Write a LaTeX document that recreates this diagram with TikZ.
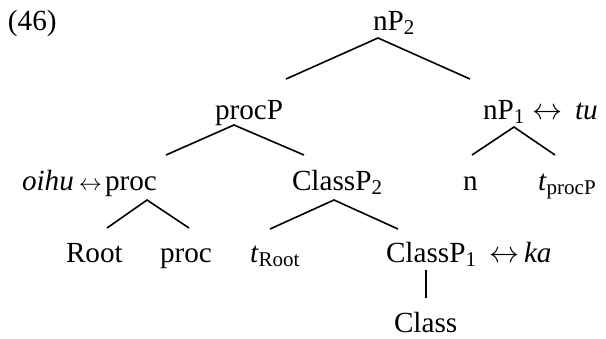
\documentclass[tikz,border=0pt]{standalone}
\usepackage{fontspec}
\setmainfont{Liberation Serif}
\newcommand{\lsub}[1]{\raisebox{-2.2pt}{\fontsize{10.5}{11}\selectfont #1}}
\newcommand{\bigarr}{\resizebox{15pt}{!}{$\leftrightarrow$}}
\newcommand{\smallarr}{\resizebox{11.5pt}{!}{$\leftrightarrow$}}

\begin{document}
\begin{tikzpicture}[
  x=0.5pt, y=-0.5pt,
  font=\fontsize{14.6}{17}\selectfont,
  lbl/.style={anchor=base west, inner sep=0pt, outer sep=0pt},
  branch/.style={line width=0.8pt}]
\useasboundingbox (0,0) rectangle (606,338);
% labels
\node[lbl] (ex)      at (8,30)    {(46)};
\node[lbl] (nPtwo)   at (373,30)  {nP\lsub{2}};
\node[lbl] (procP)   at (215,119) {procP};
\node[lbl] (nPone)   at (483,119) {nP\lsub{1}};
\node[lbl] (arrtu)   at (532,119) {\bigarr};
\node[lbl] (tu)      at (575,119) {\textit{tu}};
\node[lbl] (oihu)    at (22,190)  {\textit{oihu}};
\node[lbl] (arroihu) at (79,190)  {\smallarr};
\node[lbl] (proc)    at (105,190) {proc};
\node[lbl] (clstwo)  at (292,190) {ClassP\lsub{2}};
\node[lbl] (n)       at (463,190) {n};
\node[lbl] (tproc)   at (538,190) {\textit{t}\lsub{procP}};
\node[lbl] (root)    at (66,262)  {Root};
\node[lbl] (prochd)  at (160,262) {proc};
\node[lbl] (troot)   at (250,262) {\textit{t}\lsub{Root}};
\node[lbl] (clsone)  at (386,262) {ClassP\lsub{1}};
\node[lbl] (arrka)   at (489,262) {\bigarr};
\node[lbl] (ka)      at (524,262) {\textit{ka}};
\node[lbl] (cls)     at (394,332) {Class};
% branch ends
\coordinate (nPtwo-b)  at (378,38);
\coordinate (procP-t)  at (286,79);
\coordinate (nPone-t)  at (470,79);
\coordinate (procP-b)  at (234,125);
\coordinate (proc-t)   at (166,155);
\coordinate (clstwo-t) at (304,155);
\coordinate (nPone-b)  at (514,127);
\coordinate (n-t)      at (472,155);
\coordinate (tproc-t)  at (555,155);
\coordinate (proc-b)   at (147,200);
\coordinate (root-t)   at (107,228);
\coordinate (prochd-t) at (189,228);
\coordinate (clstwo-b) at (334,200);
\coordinate (troot-t)  at (270,229);
\coordinate (clsone-t) at (398,229);
\coordinate (clsone-b) at (426,270);
\coordinate (cls-t)    at (426,298);
\draw[branch] (procP-t) -- (nPtwo-b) -- (nPone-t);
\draw[branch] (proc-t) -- (procP-b) -- (clstwo-t);
\draw[branch] (n-t) -- (nPone-b) -- (tproc-t);
\draw[branch] (root-t) -- (proc-b) -- (prochd-t);
\draw[branch] (troot-t) -- (clstwo-b) -- (clsone-t);
\draw[branch] (clsone-b) -- (cls-t);
\end{tikzpicture}
\end{document}
